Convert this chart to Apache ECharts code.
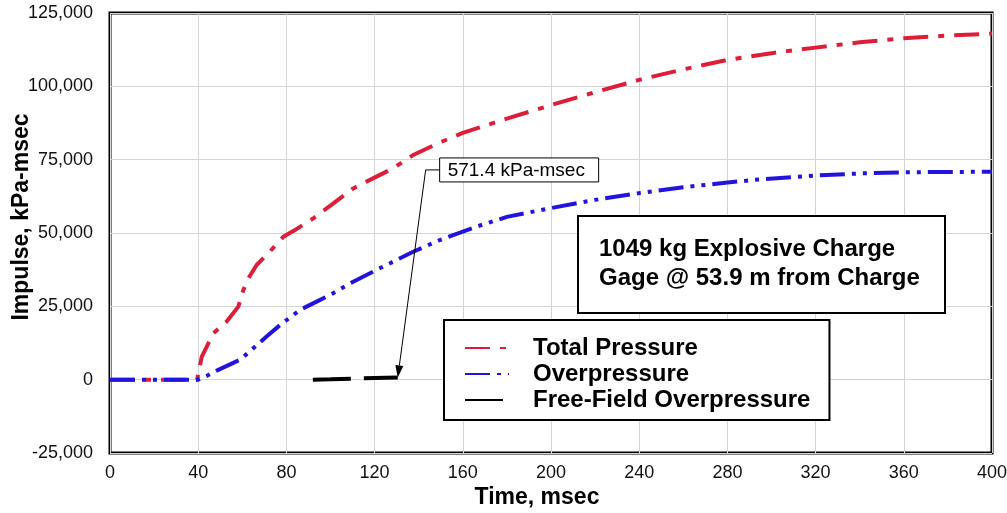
<!DOCTYPE html>
<html>
<head>
<meta charset="utf-8">
<script src="https://cdn.jsdelivr.net/npm/echarts@6/dist/echarts.min.js"></script>
<style>
html,body{margin:0;padding:0;background:#fff;}
#chart{width:1007px;height:513px;}
</style>
</head>
<body>
<div id="chart"></div>
<script>
// ---- data ----
const totalTime = [0, 39.5, 41.6, 46.9, 52.9, 58.2, 60.5, 62.8, 66.5, 71.8, 78.6, 83.9, 92.2, 101.3, 110.3, 117.9, 128.5, 137.5, 150, 160, 180, 200, 220, 240, 260, 280, 300, 320, 340, 360, 380, 400];
const totalValue = [0, 0, 7800, 15800, 19800, 24900, 30600, 34600, 39100, 43100, 48700, 51000, 55000, 60100, 65200, 68100, 72100, 76600, 81000, 84100, 89000, 93600, 98000, 102200, 105800, 109000, 111300, 113200, 115000, 116400, 117300, 118000];

const overTime = [0, 40, 43.8, 48.4, 59, 63.5, 71, 77.1, 86.2, 93.7, 101.3, 110.3, 117.9, 127, 137.5, 149.6, 166.3, 180, 200, 220, 240, 260, 280, 295, 320, 340, 360, 380, 400];
const overValue = [0, 0, 1260, 3100, 6800, 9700, 14700, 18600, 23800, 26600, 29500, 33400, 36300, 39700, 43600, 47600, 52200, 55500, 58500, 61300, 63600, 65600, 67200, 68300, 69600, 70300, 70700, 70800, 70900];

const ffTime = [92, 100, 110, 120, 130.5];
const ffValue = [0, 150, 350, 550, 750];

const seriesNames = ['Total Pressure', 'Overpressure', 'Free-Field Overpressure'];
const annotationText = '571.4 kPa-msec';
const annotationAnchor = [149.5, 71500];
const infoLines = ['1049 kg Explosive Charge', 'Gage @ 53.9 m from Charge'];

const xMin = 0, xMax = 400, xStep = 40;
const yMin = -25000, yMax = 125000, yStep = 25000;

function zip(a, b) { return a.map((v, i) => [v, b[i]]); }

const chart = echarts.init(document.getElementById('chart'), null, {renderer: 'canvas'});
const FONT = 'Arial, "Liberation Sans", sans-serif';

const option = {
  animation: false,
  backgroundColor: '#fff',
  grid: {left: 110, right: 15, top: 13, bottom: 60, show: true, borderColor: '#000', borderWidth: 3,
         backgroundColor: 'transparent', containLabel: false, outerBoundsMode: 'none'},
  xAxis: {
    type: 'value', min: xMin, max: xMax, interval: xStep,
    name: 'Time, msec', nameLocation: 'middle', nameGap: 33, nameMoveOverlap: false,
    nameTextStyle: {fontFamily: FONT, fontSize: 23, fontWeight: 'bold', color: '#000', padding: [0, 28, 0, 0]},
    axisLine: {show: false}, axisTick: {show: false},
    axisLabel: {fontFamily: FONT, fontSize: 18, color: '#111', margin: 11},
    splitLine: {show: true, lineStyle: {color: '#d4d4d4', width: 1}}
  },
  yAxis: {
    type: 'value', min: yMin, max: yMax, interval: yStep,
    name: 'Impulse, kPa-msec', nameLocation: 'middle', nameGap: 77, nameRotate: 90, nameMoveOverlap: false,
    nameTextStyle: {fontFamily: FONT, fontSize: 23, fontWeight: 'bold', color: '#000', padding: [0, 0, 0, 32]},
    axisLine: {show: false}, axisTick: {show: false},
    axisLabel: {fontFamily: FONT, fontSize: 18, color: '#111', margin: 17,
      formatter: v => v.toLocaleString('en-US')},
    splitLine: {show: true, lineStyle: {color: '#d4d4d4', width: 1}}
  },
  legend: {
    orient: 'vertical', left: 444, top: 320,
    backgroundColor: '#fff', borderColor: '#000', borderWidth: 2,
    padding: [16, 19, 8, 20], itemGap: 2, itemWidth: 44, itemHeight: 14,
    itemStyle: {opacity: 0},
    textStyle: {fontFamily: FONT, fontSize: 24, fontWeight: 'bold', color: '#000', lineHeight: 24, padding: [0, 0, 0, 19]},
    data: seriesNames
  },
  series: [
    {name: seriesNames[0], type: 'line', data: zip(totalTime, totalValue), showSymbol: false, symbol: 'none', z: 2,
     color: '#dc1e38', lineStyle: {color: '#dc1e38', width: 4, type: [25, 10, 6, 10]}},
    {name: seriesNames[1], type: 'line', data: zip(overTime, overValue), showSymbol: false, symbol: 'none', z: 3,
     color: '#2214dc', lineStyle: {color: '#2214dc', width: 4, type: [25, 7, 4, 7, 4, 7]}},
    {name: seriesNames[2], type: 'line', data: zip(ffTime, ffValue), showSymbol: false, symbol: 'none', z: 4,
     color: '#000', lineStyle: {color: '#000', width: 4, type: [38, 13]}}
  ]
};
chart.setOption(option);

// annotation + info box
const tip = chart.convertToPixel({gridIndex: 0}, [ffTime[ffTime.length - 1], ffValue[ffValue.length - 1]]);
const anchor = chart.convertToPixel({gridIndex: 0}, annotationAnchor);
const corner = [anchor[0] - 14, anchor[1]];
const dx = tip[0] - corner[0], dy = tip[1] - corner[1];
const len = Math.sqrt(dx*dx + dy*dy), ux = dx/len, uy = dy/len;
const ah = 12, aw = 4;
const base = [tip[0] - ux*ah, tip[1] - uy*ah];
const head = [tip, [base[0] - uy*aw, base[1] + ux*aw], [base[0] + uy*aw, base[1] - ux*aw]];

chart.setOption({
  graphic: [
    {type: 'polyline', shape: {points: [[anchor[0], anchor[1]], corner, base]}, style: {stroke: '#000', lineWidth: 1, fill: null}, z: 50},
    {type: 'polygon', shape: {points: head}, style: {fill: '#000'}, z: 50},
    {type: 'rect', shape: {x: anchor[0], y: anchor[1] - 12, width: 159, height: 24}, style: {fill: '#fff', stroke: '#000', lineWidth: 1}, z: 50},
    {type: 'text', x: anchor[0] + 8, y: anchor[1] + 1, style: {text: annotationText, font: '19px ' + FONT, fill: '#000', textVerticalAlign: 'middle'}, z: 51},
    {type: 'rect', shape: {x: 578, y: 216, width: 367, height: 97}, style: {fill: '#fff', stroke: '#000', lineWidth: 2}, z: 50},
    {type: 'text', x: 599, y: 249, style: {text: infoLines[0], font: 'bold 24px ' + FONT, fill: '#000', textVerticalAlign: 'middle'}, z: 51},
    {type: 'text', x: 599, y: 278, style: {text: infoLines[1], font: 'bold 24px ' + FONT, fill: '#000', textVerticalAlign: 'middle'}, z: 51}
  ]
});
</script>
</body>
</html>
